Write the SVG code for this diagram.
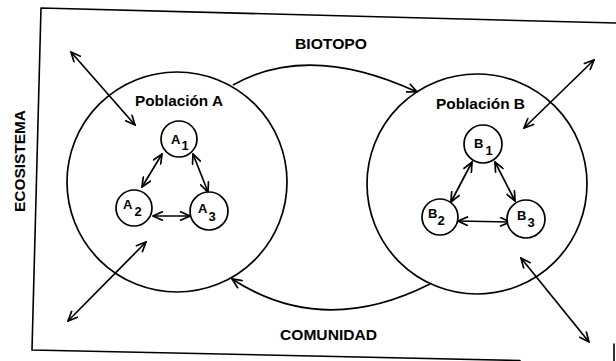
<svg xmlns="http://www.w3.org/2000/svg" width="616" height="361" viewBox="0 0 616 361">
<style>
.ln{fill:none;stroke:#000;stroke-width:1.6;stroke-linecap:round}
.c{fill:#fff;stroke:#000;stroke-width:1.7}
.big{fill:none;stroke:#000;stroke-width:1.7}
.t{font-family:"Liberation Sans",Arial,sans-serif;font-weight:bold;font-size:15px;fill:#000}
.s{font-family:"Liberation Sans",Arial,sans-serif;font-weight:bold;font-size:13px;fill:#000}
.a{fill:none;stroke:#000;stroke-width:1.7;marker-start:url(#ah);marker-end:url(#ah)}
.a1{fill:none;stroke:#000;stroke-width:1.7;marker-end:url(#ah)}
</style>
<defs>
<marker id="ah" viewBox="0 0 12 10" refX="11" refY="5" markerWidth="12" markerHeight="10" markerUnits="userSpaceOnUse" orient="auto-start-reverse">
<path d="M1,0.5 L11,5 L1,9.5" fill="none" stroke="#000" stroke-width="1.7"/>
</marker>
</defs>
<rect width="616" height="361" fill="#fff"/>
<g id="frame">
<path class="ln" d="M41,8 L616,23 M41,8 L32,350 L520,360.5 M614,344 L614,361"/>
</g>
<g id="ecosistema"><text class="t" transform="translate(25,212) rotate(-90)" textLength="102" lengthAdjust="spacingAndGlyphs">ECOSISTEMA</text></g>
<g id="biotopo"><text class="t" x="295" y="49" textLength="72" lengthAdjust="spacingAndGlyphs">BIOTOPO</text></g>
<g id="comunidad"><text class="t" x="280" y="340" textLength="97" lengthAdjust="spacingAndGlyphs">COMUNIDAD</text></g>
<g id="poblacionA">
<circle class="big" cx="177" cy="182" r="110"/>
<text class="t" x="135" y="106" textLength="88" lengthAdjust="spacingAndGlyphs">Población  A</text>
</g>
<g id="poblacionB">
<circle class="big" cx="477" cy="184" r="110"/>
<text class="t" x="436" y="109" textLength="89" lengthAdjust="spacingAndGlyphs">Población  B</text>
</g>
<g id="connectors">
<path class="a1" d="M233,85 Q309,42 417,92"/>
<path class="a1" d="M430,284 Q323,338 232,279"/>
<path class="a" d="M71,52 L135,125"/>
<path class="a" d="M594,60 L524,128"/>
<path class="a" d="M146,242 L68,321"/>
<path class="a" d="M521,258 L589,342"/>
<path class="a" d="M162,154 L142,187"/>
<path class="a" d="M193,154 L208,192"/>
<path class="a" d="M153,216 L190,216"/>
<path class="a" d="M472,162 L451,202"/>
<path class="a" d="M495,162 L515,201"/>
<path class="a" d="M458,221 L510,222"/>
</g>
<g id="A1"><circle class="c" cx="179" cy="139" r="18"/><text class="s" x="171" y="144">A<tspan dx="1" dy="6">1</tspan></text></g>
<g id="A2"><circle class="c" cx="134" cy="208" r="18"/><text class="s" x="123" y="209">A<tspan dx="2" dy="7">2</tspan></text></g>
<g id="A3"><circle class="c" cx="209" cy="211" r="19"/><text class="s" x="198" y="213">A<tspan dx="1" dy="8">3</tspan></text></g>
<g id="B1"><circle class="c" cx="483" cy="144" r="19"/><text class="s" x="474" y="148">B<tspan dx="2" dy="7">1</tspan></text></g>
<g id="B2"><circle class="c" cx="440" cy="217" r="18"/><text class="s" x="428" y="218">B<tspan dx="0" dy="7">2</tspan></text></g>
<g id="B3"><circle class="c" cx="526" cy="219" r="19"/><text class="s" x="517" y="220">B<tspan dx="1" dy="7">3</tspan></text></g>
</svg>
